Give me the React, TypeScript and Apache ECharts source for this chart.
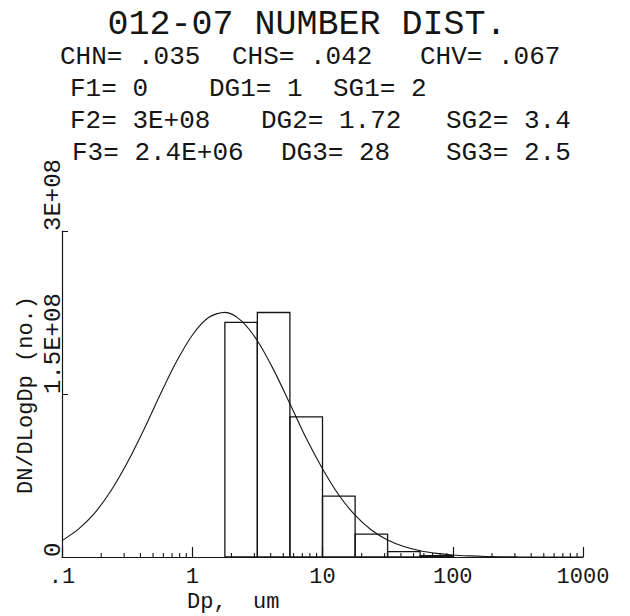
import React, { useEffect, useRef } from "react";
import * as echarts from "echarts";

// ---- texts ----
const titleText = "012-07 NUMBER DIST.";
const paramLine1 = ["CHN= .035", "CHS= .042", "CHV= .067"];
const paramLine2 = ["F1= 0", "DG1= 1", "SG1= 2"];
const paramLine3 = ["F2= 3E+08", "DG2= 1.72", "SG2= 3.4"];
const paramLine4 = ["F3= 2.4E+06", "DG3= 28", "SG3= 2.5"];
const xAxisTitle = "Dp,  um";
const yAxisTitle = "DN/DLogDp (no.)";

// ---- tick labels ----
const xTickValues = [0.1, 1, 10, 100, 1000];
const xTickLabels = [".1", "1", "10", "100", "1000"];
const yTickValues = [0, 1.5e8, 3e8];
const yTickLabels = ["0", "1.5E+08", "3E+08"];
const xMinorTicks = [
  0.2, 0.3, 0.4, 0.5, 0.6, 0.7, 0.8, 0.9,
  2, 3, 4, 5, 6, 7, 8, 9,
  20, 30, 40, 50, 60, 70, 80, 90,
  200, 300, 400, 500, 600, 700, 800, 900,
];

// ---- histogram (measured) ----
const binLow = [1.78, 3.16, 5.62, 10, 17.8, 31.6, 56.2];
const binHigh = [3.16, 5.62, 10, 17.8, 31.6, 56.2, 100];
const binValue = [2.16e8, 2.25e8, 1.29e8, 0.56e8, 0.21e8, 0.05e8, 0.012e8];

// ---- fitted curve ----
const fitDp = [
  0.1, 0.133, 0.178, 0.237, 0.316, 0.422, 0.562, 0.75, 1, 1.334, 1.778, 2.371,
  3.162, 4.217, 5.623, 7.499, 10, 13.34, 17.78, 23.71, 31.62, 42.17, 56.23,
  74.99, 100, 133.4, 177.8, 316.2, 1000,
];
const fitValue = [
  0.151e8, 0.254e8, 0.404e8, 0.607e8, 0.864e8, 1.164e8, 1.484e8, 1.789e8,
  2.041e8, 2.204e8, 2.251e8, 2.176e8, 1.99e8, 1.722e8, 1.41e8, 1.092e8,
  0.813e8, 0.571e8, 0.385e8, 0.249e8, 0.157e8, 0.096e8, 0.057e8, 0.033e8,
  0.018e8, 0.01e8, 0.005e8, 0.001e8, 0,
];

const FONT = "'Liberation Mono', 'DejaVu Sans Mono', monospace";
const INK = "#151515";

function labelFor(values: number[], labels: string[], v: number): string {
  for (let i = 0; i < values.length; i++) {
    if (Math.abs(values[i] - v) <= Math.abs(values[i]) * 1e-6 + 1e-9) return labels[i];
  }
  return "";
}

export default function App() {
  const ref = useRef<HTMLDivElement>(null);

  useEffect(() => {
    if (!ref.current) return;
    const chart = echarts.init(ref.current, undefined, { renderer: "svg" });

    const paramRows = [paramLine1, paramLine2, paramLine3, paramLine4];
    const rowY = [44, 76, 108, 140];
    const rowX = [
      [60, 232, 420],
      [70, 209, 333],
      [70, 261, 446],
      [72, 281, 446],
    ];
    const paramGraphics: any[] = [];
    paramRows.forEach((row, r) => {
      row.forEach((t, c) => {
        paramGraphics.push({
          type: "text",
          x: rowX[r][c],
          y: rowY[r],
          style: {
            text: t,
            fill: INK,
            font: `400 26px ${FONT}`,
            align: "left",
            verticalAlign: "top",
          },
        });
      });
    });

    const option: any = {
      animation: false,
      backgroundColor: "#ffffff",
      grid: {
        left: 62,
        right: 47,
        top: 231,
        bottom: 59,
        containLabel: false,
        outerBoundsMode: "none",
      },
      xAxis: {
        type: "log",
        logBase: 10,
        min: 0.1,
        max: 1000,
        splitNumber: 4,
        axisLine: { show: true, onZero: false, lineStyle: { color: INK, width: 1.2 } },
        axisTick: { show: true, inside: true, length: 10, lineStyle: { color: INK, width: 1.2 } },
        axisLabel: {
          color: INK,
          fontFamily: FONT,
          fontSize: 22,
          margin: 9,
          formatter: (v: number) => labelFor(xTickValues, xTickLabels, v),
        },
        splitLine: { show: false },
      },
      yAxis: {
        type: "value",
        min: 0,
        max: 3e8,
        interval: 1.5e8,
        axisLine: { show: true, lineStyle: { color: INK, width: 1.2 } },
        axisTick: { show: true, inside: true, length: 6, lineStyle: { color: INK } },
        axisLabel: {
          color: INK,
          fontFamily: FONT,
          fontSize: 24,
          rotate: 90,
          align: "left",
          verticalAlign: "bottom",
          margin: -3,
          formatter: (v: number) => labelFor(yTickValues, yTickLabels, v),
        },
        splitLine: { show: false },
      },
      graphic: [
        {
          type: "text",
          x: 307,
          y: 7,
          style: {
            text: titleText,
            fill: INK,
            font: `400 35px ${FONT}`,
            align: "center",
            verticalAlign: "top",
          },
        },
        ...paramGraphics,
        {
          type: "text",
          x: 187,
          y: 591,
          style: {
            text: xAxisTitle,
            fill: INK,
            font: `400 22px ${FONT}`,
            align: "left",
            verticalAlign: "top",
          },
        },
        {
          type: "text",
          x: 26,
          y: 395,
          rotation: Math.PI / 2,
          style: {
            text: yAxisTitle,
            fill: INK,
            font: `400 22px ${FONT}`,
            align: "center",
            verticalAlign: "middle",
          },
        },
      ],
      series: [
        {
          type: "custom",
          name: "histogram",
          data: binLow.map((lo, i) => [lo, binHigh[i], binValue[i]]),
          encode: { x: [0, 1], y: 2 },
          renderItem: (params: any, api: any) => {
            const p0 = api.coord([api.value(0), api.value(2)]);
            const p1 = api.coord([api.value(1), 0]);
            return {
              type: "rect",
              shape: { x: p0[0], y: p0[1], width: p1[0] - p0[0], height: p1[1] - p0[1] },
              style: { fill: "none", stroke: INK, lineWidth: 1.3 },
            };
          },
          z: 2,
        },
        {
          type: "line",
          name: "fit",
          data: fitDp.map((d, i) => [d, fitValue[i]]),
          symbol: "none",
          smooth: 0.3,
          lineStyle: { color: INK, width: 1.1 },
          z: 3,
        },
        {
          type: "custom",
          name: "minorTicks",
          data: xMinorTicks.map((v) => [v, 0]),
          encode: { x: 0, y: 1 },
          renderItem: (params: any, api: any) => {
            const p = api.coord([api.value(0), 0]);
            return {
              type: "line",
              shape: { x1: p[0], y1: p[1], x2: p[0], y2: p[1] - 4 },
              style: { stroke: INK, lineWidth: 1.1 },
            };
          },
          z: 1,
        },
      ],
    };

    chart.setOption(option);
    return () => chart.dispose();
  }, []);

  return (
    <div
      ref={ref}
      style={{ position: "fixed", left: 0, top: 0, width: 630, height: 616, background: "#fff" }}
    />
  );
}
